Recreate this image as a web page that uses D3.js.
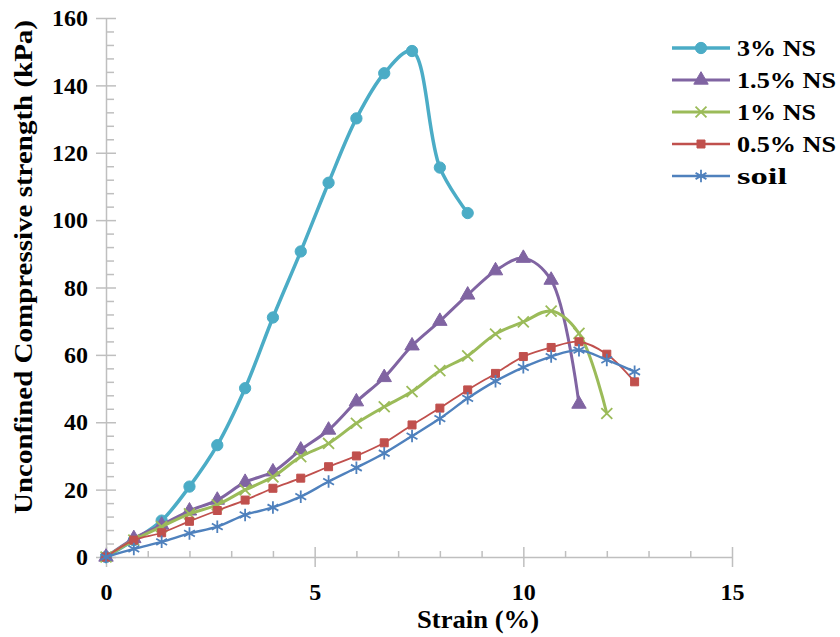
<!DOCTYPE html>
<html>
<head>
<meta charset="utf-8">
<script src="https://cdn.jsdelivr.net/npm/d3@7"></script>
<style>
  body { margin: 0; background: #fff; }
  svg { display: block; font-family: "Liberation Serif", "DejaVu Serif", serif; font-weight: bold; }
  .axis .domain, .axis line { stroke: #bfbfbf; stroke-width: 1.5; }
</style>
</head>
<body>
<div id="chart"></div>
<script>
// strain (%) steps are 2/3 of a percent
const step = 2 / 3;

const seriesNames = ["3% NS", "1.5% NS", "1% NS", "0.5% NS", "soil"];

const ns3 = [0, 5, 10.8, 20.9, 33.2, 50.1, 71.1, 90.7, 111.1, 130.2, 143.6, 150.2, 115.6, 102.1];
const ns15 = [0, 5.5, 9.5, 13.7, 16.9, 22.2, 25.3, 31.8, 37.7, 46.1, 53.3, 62.7, 70, 77.8, 85, 88.7, 82.2, 45.4];
const ns1 = [0, 5, 9, 12.8, 15.5, 19.9, 23.8, 29.8, 33.7, 39.7, 44.6, 49.1, 55.3, 59.7, 66.2, 69.8, 73, 66.4, 42.6];
const ns05 = [0, 5, 7.2, 10.6, 13.8, 16.9, 20.4, 23.4, 26.8, 30, 33.9, 39.2, 44.2, 49.6, 54.5, 59.5, 62.2, 63.9, 60.2, 52];
const soil = [0, 2.4, 4.5, 7, 9, 12.5, 14.7, 17.9, 22.4, 26.5, 30.8, 35.9, 41.1, 47.1, 52.2, 56.3, 59.5, 61.4, 58.5, 55];

const xTicks = [0, 5, 10, 15];
const yTicks = [0, 20, 40, 60, 80, 100, 120, 140, 160];

const colors = ["#4bacc6", "#8064a2", "#9bbb59", "#c0504d", "#4f81bd"];
const widths = [3.5, 3, 3, 1.8, 2.4];

const series = [ns3, ns15, ns1, ns05, soil].map((vals, i) => ({
  name: seriesNames[i],
  color: colors[i],
  width: widths[i],
  points: vals.map((v, j) => ({ x: j * step, y: v })),
}));

const W = 840, H = 637;
const svg = d3.select("#chart").append("svg").attr("width", W).attr("height", H);

const x = d3.scaleLinear().domain([0, 15]).range([106, 732]);
const y = d3.scaleLinear().domain([0, 160]).range([557, 18]);

const xMinor = d3.range(0, 15.01, 1).filter((d) => d % 5 !== 0);
const yMinor = d3.range(0, 160.01, 4).filter((d) => d % 20 !== 0);

function labelStyle(g) {
  g.attr("font-family", null).attr("font-size", null);
  g.selectAll("text")
    .style("font-family", '"Liberation Serif", "DejaVu Serif", serif')
    .style("font-weight", "bold")
    .style("font-size", "24px")
    .attr("fill", "#000");
}

// y axis: major ticks cross the line, minor ticks inside
svg.append("g").attr("class", "axis")
  .attr("transform", `translate(${x(0)},0)`)
  .call(d3.axisLeft(y).tickValues(yTicks).tickSize(10).tickPadding(8).tickSizeOuter(0))
  .call(labelStyle);
svg.append("g").attr("class", "axis")
  .attr("transform", `translate(${x(0)},0)`)
  .call(d3.axisRight(y).tickValues(yTicks).tickSize(10).tickFormat("").tickSizeOuter(0))
  .call((g) => g.select(".domain").remove());
svg.append("g").attr("class", "axis")
  .attr("transform", `translate(${x(0)},0)`)
  .call(d3.axisRight(y).tickValues(yMinor).tickSize(8).tickFormat("").tickSizeOuter(0))
  .call((g) => g.select(".domain").remove());

// x axis
svg.append("g").attr("class", "axis")
  .attr("transform", `translate(0,${y(0)})`)
  .call(d3.axisBottom(x).tickValues(xTicks).tickSize(10).tickPadding(16).tickSizeOuter(0))
  .call(labelStyle);
svg.append("g").attr("class", "axis")
  .attr("transform", `translate(0,${y(0)})`)
  .call(d3.axisTop(x).tickValues(xTicks).tickSize(10).tickFormat("").tickSizeOuter(0))
  .call((g) => g.select(".domain").remove());
svg.append("g").attr("class", "axis")
  .attr("transform", `translate(0,${y(0)})`)
  .call(d3.axisTop(x).tickValues(xMinor).tickSize(6).tickFormat("").tickSizeOuter(0))
  .call((g) => g.select(".domain").remove());

// titles
svg.append("text")
  .attr("x", 478).attr("y", 628)
  .attr("text-anchor", "middle")
  .attr("font-size", 25)
  .attr("textLength", 122).attr("lengthAdjust", "spacingAndGlyphs")
  .text("Strain (%)");

svg.append("text")
  .attr("transform", "translate(32,267) rotate(-90)")
  .attr("text-anchor", "middle")
  .attr("font-size", 25)
  .attr("textLength", 494).attr("lengthAdjust", "spacingAndGlyphs")
  .text("Unconfined Compressive strength (kPa)");

const symbols = [
  { type: d3.symbolCircle, size: 100, fill: true },
  { type: d3.symbolTriangle, size: 90, fill: true },
  { type: d3.symbolTimes || d3.symbolCross, size: 80, fill: false },
  { type: d3.symbolSquare, size: 64, fill: true },
  { type: d3.symbolAsterisk || d3.symbolCross, size: 110, fill: false },
];

function marker(sel, i) {
  const s = symbols[i];
  sel.attr("d", d3.symbol().type(s.type).size(s.size)())
    .attr("fill", s.fill ? colors[i] : "none")
    .attr("stroke", colors[i])
    .attr("stroke-width", s.fill ? 1 : 1.8);
}

const line = d3.line()
  .x((d) => x(d.x))
  .y((d) => y(d.y))
  .curve(d3.curveCatmullRom.alpha(0.5));

series.forEach((s, i) => {
  const g = svg.append("g");
  g.append("path")
    .attr("d", line(s.points))
    .attr("fill", "none")
    .attr("stroke", s.color)
    .attr("stroke-width", s.width);
  g.selectAll("path.m")
    .data(s.points)
    .join("path")
    .attr("class", "m")
    .attr("transform", (d) => `translate(${x(d.x)},${y(d.y)})`)
    .call(marker, i);
});

// legend
const legend = svg.append("g").attr("transform", "translate(672,48)");
const legendWidths = [79, 99, 79, 99, 50];
series.forEach((s, i) => {
  const row = legend.append("g").attr("transform", `translate(0,${i * 32})`);
  row.append("line")
    .attr("x1", 0).attr("x2", 58)
    .attr("stroke", s.color).attr("stroke-width", Math.max(s.width, 2.5));
  row.append("path")
    .attr("transform", "translate(29,0)")
    .call(marker, i);
  row.append("text")
    .attr("x", 65).attr("dy", "0.35em")
    .attr("font-size", 23)
    .attr("textLength", legendWidths[i]).attr("lengthAdjust", "spacingAndGlyphs")
    .text(s.name);
});
</script>
</body>
</html>
